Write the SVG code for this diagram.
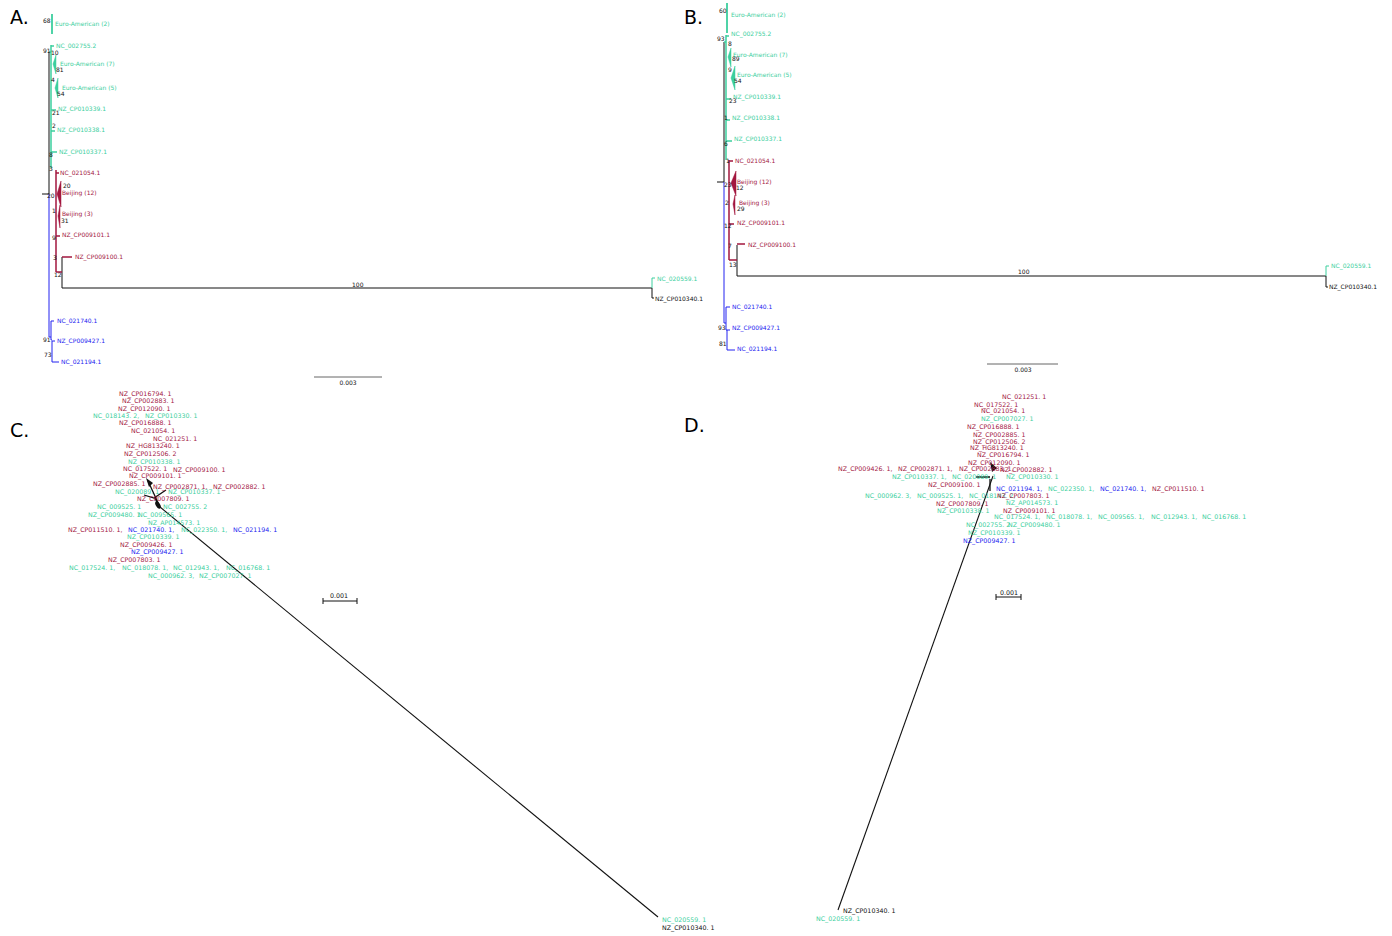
<svg xmlns="http://www.w3.org/2000/svg" width="1392" height="936" viewBox="0 0 1392 936">
<style>
text{font-family:"DejaVu Sans","Liberation Sans",sans-serif}
.s{font-size:6px}
.m{font-size:6.3px}
.h{font-size:19px;fill:#000}
.t{fill:#3ccf9e}
.c{fill:#a3173f}
.b{fill:#2323f0}
.k{fill:#111}
.lt{stroke:#3ccf9e;fill:none}
.lc{stroke:#a3173f;fill:none}
.lb{stroke:#2323f0;fill:none}
.lk{stroke:#111;fill:none}
.pt{fill:#3ccf9e;stroke:#3ccf9e;stroke-width:0.5}
.pc{fill:#a3173f;stroke:#a3173f;stroke-width:0.5}
</style>
<rect width="1392" height="936" fill="#fff"/>

<!-- Panel A -->
<g id="panelA">
<text class="h" x="10" y="24">A.</text>
<g id="A-connectors" stroke-width="1">
<path class="lk" d="M42,194H49M49,52V194M62,288H652M62,257V288M652,288V298H654"/>
<path class="lt" d="M652,278V288M652,278H655"/>
<path class="lb" d="M49,194V337H51M51,321V340M51,321H54M51,340H52M52,341V362M52,341H55M52,362H59"/>
<path class="lt" stroke-width="1.8" d="M52,14V34"/>
<path class="lt" stroke-width="1.5" d="M51,45V168M49,52H51M51,46H54M51,110H56M51,131H55M51,152H57"/>
<polygon class="pt" points="53,64 56,55 56,74"/>
<polygon class="pt" points="55,88 58,78 58,98"/>
<path class="lc" stroke-width="1.5" d="M56,170V272M56,173H59M56,236H60M56,272H62M62,257H72"/>
<polygon class="pc" points="57,194 61,181 61,207"/>
<polygon class="pc" points="58,216 60,205 60,228"/>
<path stroke="#666" d="M314,377H382"/>
</g>
<g id="A-labels">
<text class="s t" x="55" y="26">Euro-American (2)</text>
<text class="s t" x="56" y="48">NC_002755.2</text>
<text class="s t" x="60" y="66">Euro-American (7)</text>
<text class="s t" x="62" y="90">Euro-American (5)</text>
<text class="s t" x="58" y="111">NZ_CP010339.1</text>
<text class="s t" x="57" y="132">NZ_CP010338.1</text>
<text class="s t" x="59" y="154">NZ_CP010337.1</text>
<text class="s c" x="60" y="175">NC_021054.1</text>
<text class="s c" x="62" y="195">Beijing (12)</text>
<text class="s c" x="62" y="216">Beijing (3)</text>
<text class="s c" x="62" y="237">NZ_CP009101.1</text>
<text class="s c" x="75" y="259">NZ_CP009100.1</text>
<text class="s t" x="657" y="281">NC_020559.1</text>
<text class="s k" x="655" y="301">NZ_CP010340.1</text>
<text class="s b" x="57" y="323">NC_021740.1</text>
<text class="s b" x="57" y="343">NZ_CP009427.1</text>
<text class="s b" x="61" y="364">NC_021194.1</text>
<text class="s k" x="43" y="23">68</text>
<text class="s k" x="43" y="53">91</text>
<text class="s k" x="51" y="55">10</text>
<text class="s k" x="56" y="72">81</text>
<text class="s k" x="51" y="82">4</text>
<text class="s k" x="57" y="96">54</text>
<text class="s k" x="52" y="115">21</text>
<text class="s k" x="52" y="128">2</text>
<text class="s k" x="49" y="157">8</text>
<text class="s k" x="49" y="171">3</text>
<text class="s k" x="63" y="188">20</text>
<text class="s k" x="47" y="198">20</text>
<text class="s k" x="52" y="213">1</text>
<text class="s k" x="61" y="223">31</text>
<text class="s k" x="52" y="240">9</text>
<text class="s k" x="53" y="260">3</text>
<text class="s k" x="54" y="277">12</text>
<text class="s k" x="352" y="287">100</text>
<text class="s k" x="43" y="342">91</text>
<text class="s k" x="44" y="357">73</text>
<text class="s k" x="348" y="385" text-anchor="middle">0.003</text>
</g>
</g>

<!-- Panel B -->
<g id="panelB">
<text class="h" x="684" y="24">B.</text>
<g id="B-connectors" stroke-width="1">
<path class="lk" d="M717,182H724M724,42V182M737,276H1326M737,245V276M1326,276V287H1328"/>
<path class="lt" d="M1326,266V276M1326,266H1329"/>
<path class="lb" d="M724,182V323H726M726,307V330M726,307H730M726,330H730M727,330V350M727,350H735"/>
<path class="lt" stroke-width="1.8" d="M727,3V33"/>
<path class="lt" stroke-width="1.5" d="M726,35V160M724,42H726M726,36H729M726,99H731M726,120H730M726,141H732"/>
<polygon class="pt" points="728,57 731,48 731,67"/>
<polygon class="pt" points="731,78 735,66 735,90"/>
<path class="lc" stroke-width="1.5" d="M729,160V260M729,161H733M729,224H734M729,260H737M737,244H745"/>
<polygon class="pc" points="731,183 736,171 736,196"/>
<polygon class="pc" points="733,204 735,195 735,215"/>
<path stroke="#666" d="M987,364H1058"/>
</g>
<g id="B-labels">
<text class="s t" x="731" y="17">Euro-American (2)</text>
<text class="s t" x="731" y="36">NC_002755.2</text>
<text class="s t" x="733" y="57">Euro-American (7)</text>
<text class="s t" x="737" y="77">Euro-American (5)</text>
<text class="s t" x="733" y="99">NZ_CP010339.1</text>
<text class="s t" x="732" y="120">NZ_CP010338.1</text>
<text class="s t" x="734" y="141">NZ_CP010337.1</text>
<text class="s c" x="735" y="163">NC_021054.1</text>
<text class="s c" x="737" y="184">Beijing (12)</text>
<text class="s c" x="739" y="205">Beijing (3)</text>
<text class="s c" x="737" y="225">NZ_CP009101.1</text>
<text class="s c" x="748" y="247">NZ_CP009100.1</text>
<text class="s t" x="1331" y="268">NC_020559.1</text>
<text class="s k" x="1329" y="289">NZ_CP010340.1</text>
<text class="s b" x="732" y="309">NC_021740.1</text>
<text class="s b" x="732" y="330">NZ_CP009427.1</text>
<text class="s b" x="737" y="351">NC_021194.1</text>
<text class="s k" x="719" y="13">60</text>
<text class="s k" x="717" y="41">93</text>
<text class="s k" x="728" y="46">8</text>
<text class="s k" x="732" y="61">89</text>
<text class="s k" x="728" y="72">9</text>
<text class="s k" x="734" y="83">54</text>
<text class="s k" x="729" y="103">23</text>
<text class="s k" x="724" y="120">1</text>
<text class="s k" x="724" y="146">6</text>
<text class="s k" x="726" y="163">1</text>
<text class="s k" x="724" y="187">23</text>
<text class="s k" x="736" y="190">12</text>
<text class="s k" x="725" y="205">2</text>
<text class="s k" x="737" y="211">29</text>
<text class="s k" x="724" y="228">12</text>
<text class="s k" x="728" y="248">7</text>
<text class="s k" x="729" y="267">13</text>
<text class="s k" x="1018" y="274">100</text>
<text class="s k" x="718" y="330">93</text>
<text class="s k" x="719" y="346">81</text>
<text class="s k" x="1023" y="372" text-anchor="middle">0.003</text>
</g>
</g>

<!-- Panel C -->
<g id="panelC">
<text class="h" x="10" y="437">C.</text>
<g id="C-connectors">
<path class="lk" stroke-width="1.1" d="M160,507L658,917"/>
<path class="lk" stroke-width="1.3" d="M148,481L160,507M144,495L154,498L166,490M155,498L158,505"/>
<polygon fill="#111" points="146,478 153,483 149,487"/>
<ellipse cx="158" cy="505" rx="2.2" ry="4" fill="#111" transform="rotate(-30 158 505)"/>
<path stroke="#111" d="M323,601H357M323,598V604M357,598V604"/>
</g>
<g id="C-labels" class="m">
<text class="c" x="119" y="396">NZ_CP016794. 1</text>
<text class="c" x="122" y="403">NZ_CP002883. 1</text>
<text class="c" x="118" y="411">NZ_CP012090. 1</text>
<text class="t" x="93" y="418">NC_018143. 2,</text>
<text class="t" x="145" y="418">NZ_CP010330. 1</text>
<text class="c" x="119" y="425">NZ_CP016888. 1</text>
<text class="c" x="131" y="433">NC_021054. 1</text>
<text class="c" x="153" y="441">NC_021251. 1</text>
<text class="c" x="126" y="448">NZ_HG813240. 1</text>
<text class="c" x="124" y="456">NZ_CP012506. 2</text>
<text class="t" x="128" y="464">NZ_CP010338. 1</text>
<text class="c" x="123" y="471">NC_017522. 1</text>
<text class="c" x="173" y="472">NZ_CP009100. 1</text>
<text class="c" x="129" y="478">NZ_CP009101. 1</text>
<text class="c" x="93" y="486">NZ_CP002885. 1</text>
<text class="c" x="153" y="489">NZ_CP002871. 1,</text>
<text class="c" x="213" y="489">NZ_CP002882. 1</text>
<text class="t" x="115" y="494">NC_020089. 1</text>
<text class="t" x="168" y="494">NZ_CP010337. 1</text>
<text class="c" x="137" y="501">NZ_CP007809. 1</text>
<text class="t" x="97" y="509">NC_009525. 1</text>
<text class="t" x="163" y="509">NC_002755. 2</text>
<text class="t" x="88" y="517">NZ_CP009480. 1</text>
<text class="t" x="138" y="517">NC_009565. 1</text>
<text class="t" x="148" y="525">NZ_AP014573. 1</text>
<text class="c" x="68" y="532">NZ_CP011510. 1,</text>
<text class="b" x="128" y="532">NC_021740. 1,</text>
<text class="t" x="181" y="532">NC_022350. 1,</text>
<text class="b" x="233" y="532">NC_021194. 1</text>
<text class="t" x="127" y="539">NZ_CP010339. 1</text>
<text class="c" x="120" y="547">NZ_CP009426. 1</text>
<text class="b" x="131" y="554">NZ_CP009427. 1</text>
<text class="c" x="108" y="562">NZ_CP007803. 1</text>
<text class="t" x="69" y="570">NC_017524. 1,</text>
<text class="t" x="122" y="570">NC_018078. 1,</text>
<text class="t" x="173" y="570">NC_012943. 1,</text>
<text class="t" x="226" y="570">NC_016768. 1</text>
<text class="t" x="148" y="578">NC_000962. 3,</text>
<text class="t" x="199" y="578">NZ_CP007027. 1</text>
<text class="t" x="662" y="922">NC_020559. 1</text>
<text class="k" x="662" y="930">NZ_CP010340. 1</text>
<text class="k" x="330" y="598">0.001</text>
</g>
</g>

<!-- Panel D -->
<g id="panelD">
<text class="h" x="684" y="432">D.</text>
<g id="D-connectors">
<path class="lk" stroke-width="1.1" d="M838,910L993,476"/>
<path class="lk" stroke-width="1.3" d="M976,477H990M990,479V491"/>
<polygon fill="#111" points="990,462 997,468 992,472"/>
<path stroke="#111" d="M996,597H1021M996,594V600M1021,594V600"/>
</g>
<g id="D-labels" class="m">
<text class="c" x="1002" y="399">NC_021251. 1</text>
<text class="c" x="974" y="407">NC_017522. 1</text>
<text class="c" x="981" y="413">NC_021054. 1</text>
<text class="t" x="981" y="421">NZ_CP007027. 1</text>
<text class="c" x="967" y="429">NZ_CP016888. 1</text>
<text class="c" x="973" y="437">NZ_CP002885. 1</text>
<text class="c" x="973" y="444">NZ_CP012506. 2</text>
<text class="c" x="970" y="450">NZ_HG813240. 1</text>
<text class="c" x="977" y="457">NZ_CP016794. 1</text>
<text class="c" x="968" y="465">NZ_CP012090. 1</text>
<text class="c" x="838" y="471">NZ_CP009426. 1,</text>
<text class="c" x="898" y="471">NZ_CP002871. 1,</text>
<text class="c" x="959" y="471">NZ_CP002883. 1,</text>
<text class="c" x="1000" y="472">NZ_CP002882. 1</text>
<text class="t" x="892" y="479">NZ_CP010337. 1,</text>
<text class="t" x="952" y="479">NC_020089. 1</text>
<text class="t" x="1006" y="479">NZ_CP010330. 1</text>
<text class="c" x="928" y="487">NZ_CP009100. 1</text>
<text class="b" x="996" y="491">NC_021194. 1,</text>
<text class="t" x="1048" y="491">NC_022350. 1,</text>
<text class="b" x="1100" y="491">NC_021740. 1,</text>
<text class="c" x="1152" y="491">NZ_CP011510. 1</text>
<text class="t" x="865" y="498">NC_000962. 3,</text>
<text class="t" x="917" y="498">NC_009525. 1,</text>
<text class="t" x="969" y="498">NC_018143. 2,</text>
<text class="c" x="997" y="498">NZ_CP007803. 1</text>
<text class="t" x="1006" y="505">NZ_AP014573. 1</text>
<text class="c" x="936" y="506">NZ_CP007809. 1</text>
<text class="t" x="937" y="513">NZ_CP010338. 1</text>
<text class="c" x="1003" y="513">NZ_CP009101. 1</text>
<text class="t" x="994" y="519">NC_017524. 1,</text>
<text class="t" x="1046" y="519">NC_018078. 1,</text>
<text class="t" x="1098" y="519">NC_009565. 1,</text>
<text class="t" x="1151" y="519">NC_012943. 1,</text>
<text class="t" x="1202" y="519">NC_016768. 1</text>
<text class="t" x="966" y="527">NC_002755. 2</text>
<text class="t" x="1008" y="527">NZ_CP009480. 1</text>
<text class="t" x="968" y="535">NZ_CP010339. 1</text>
<text class="b" x="963" y="543">NZ_CP009427. 1</text>
<text class="k" x="843" y="913">NZ_CP010340. 1</text>
<text class="t" x="816" y="921">NC_020559. 1</text>
<text class="k" x="1000" y="595">0.001</text>
</g>
</g>
</svg>
